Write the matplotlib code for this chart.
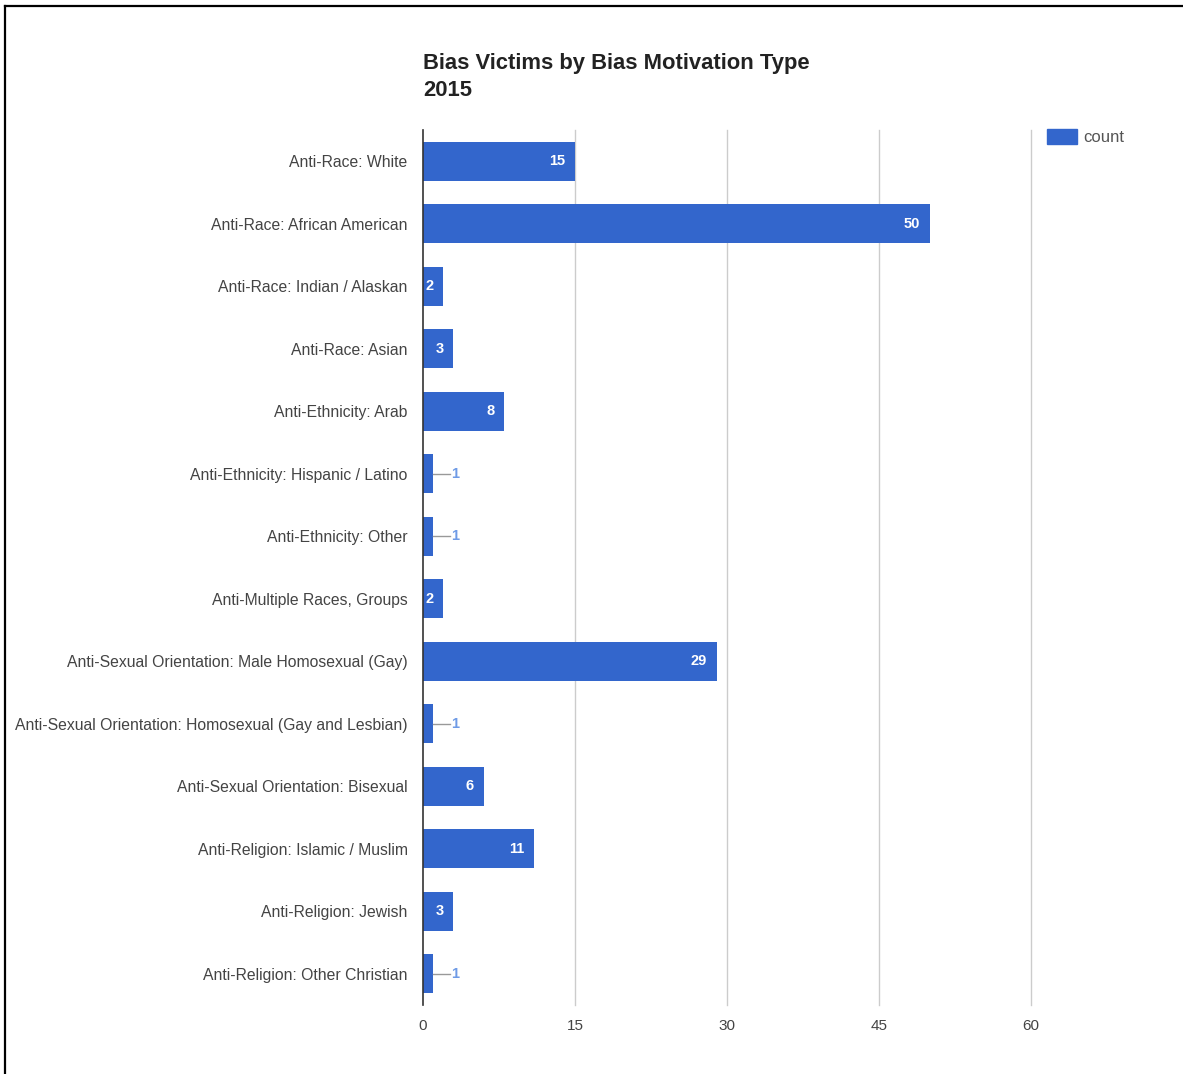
import matplotlib.pyplot as plt
from matplotlib.lines import Line2D

categories = ["Anti-Race: White", "Anti-Race: African American", "Anti-Race: Indian / Alaskan",
              "Anti-Race: Asian", "Anti-Ethnicity: Arab", "Anti-Ethnicity: Hispanic / Latino",
              "Anti-Ethnicity: Other", "Anti-Multiple Races, Groups",
              "Anti-Sexual Orientation: Male Homosexual (Gay)",
              "Anti-Sexual Orientation: Homosexual (Gay and Lesbian)",
              "Anti-Sexual Orientation: Bisexual", "Anti-Religion: Islamic / Muslim",
              "Anti-Religion: Jewish", "Anti-Religion: Other Christian"]
counts = [15, 50, 2, 3, 8, 1, 1, 2, 29, 1, 6, 11, 3, 1]
xticks = [0, 15, 30, 45, 60]

plt.rcParams['font.family'] = ['Liberation Sans', 'DejaVu Sans']
blue = '#3366cc'

fig = plt.figure(figsize=(11.83, 10.74), dpi=100)
ax = fig.add_axes([423/1183, 1 - 1005/1074, (1031 - 423)/1183, (1005 - 130)/1074])

y = list(range(len(categories)))
bars = ax.barh(y, counts, height=0.62, color=blue, zorder=3)
ax.set_ylim(len(categories) - 0.5, -0.5)
ax.set_xlim(0, 60)
ax.set_xticks(xticks)
ax.set_yticks(y)
ax.set_yticklabels(categories, fontsize=11.3, color='#444444')
ax.tick_params(axis='y', length=0, pad=11)
ax.tick_params(axis='x', length=0, pad=10, labelsize=11, labelcolor='#444444')
for t in xticks[1:]:
    ax.axvline(t, color='#cccccc', linewidth=1, zorder=0, clip_on=False)
for s in ['top', 'right', 'bottom']:
    ax.spines[s].set_visible(False)
ax.spines['left'].set_color('#333333')
ax.spines['left'].set_linewidth(1.2)
ax.spines['left'].set_zorder(4)

for b, v in zip(bars, counts):
    yc = b.get_y() + b.get_height() / 2
    if v >= 2:
        ax.annotate(str(v), (v, yc), xytext=(-7, 0), textcoords='offset points',
                    ha='right', va='center', color='white', fontsize=10.5, fontweight='bold', zorder=5)
    else:
        ax.plot([v, v + 1.65], [yc, yc], color='#999999', linewidth=1, zorder=4)
        ax.text(v + 1.75, yc, str(v), ha='left', va='center', color='#6f9be6', fontsize=10.5,
                fontweight='bold', zorder=5)

fig.text(423/1183, 1 - 63/1074, "Bias Victims by Bias Motivation Type", fontsize=15.8,
         fontweight='bold', color='#222222', va='center', ha='left')
fig.text(423/1183, 1 - 91/1074, "2015", fontsize=15.8, fontweight='bold', color='#222222',
         va='center', ha='left')

# legend
fig.patches.append(plt.Rectangle((1047/1183, 1 - 144/1074), 30/1183, 15/1074,
                                 transform=fig.transFigure, color=blue))
fig.text(1083/1183, 1 - 137/1074, "count", fontsize=12, color='#555555', va='center', ha='left')

# border
fig.add_artist(Line2D([5/1183, 1], [1 - 6/1074, 1 - 6/1074], color='black', linewidth=1.6,
                      transform=fig.transFigure))
fig.add_artist(Line2D([5/1183, 5/1183], [0, 1 - 6/1074], color='black', linewidth=1.6,
                      transform=fig.transFigure))

fig.savefig('out.png', dpi=100)
